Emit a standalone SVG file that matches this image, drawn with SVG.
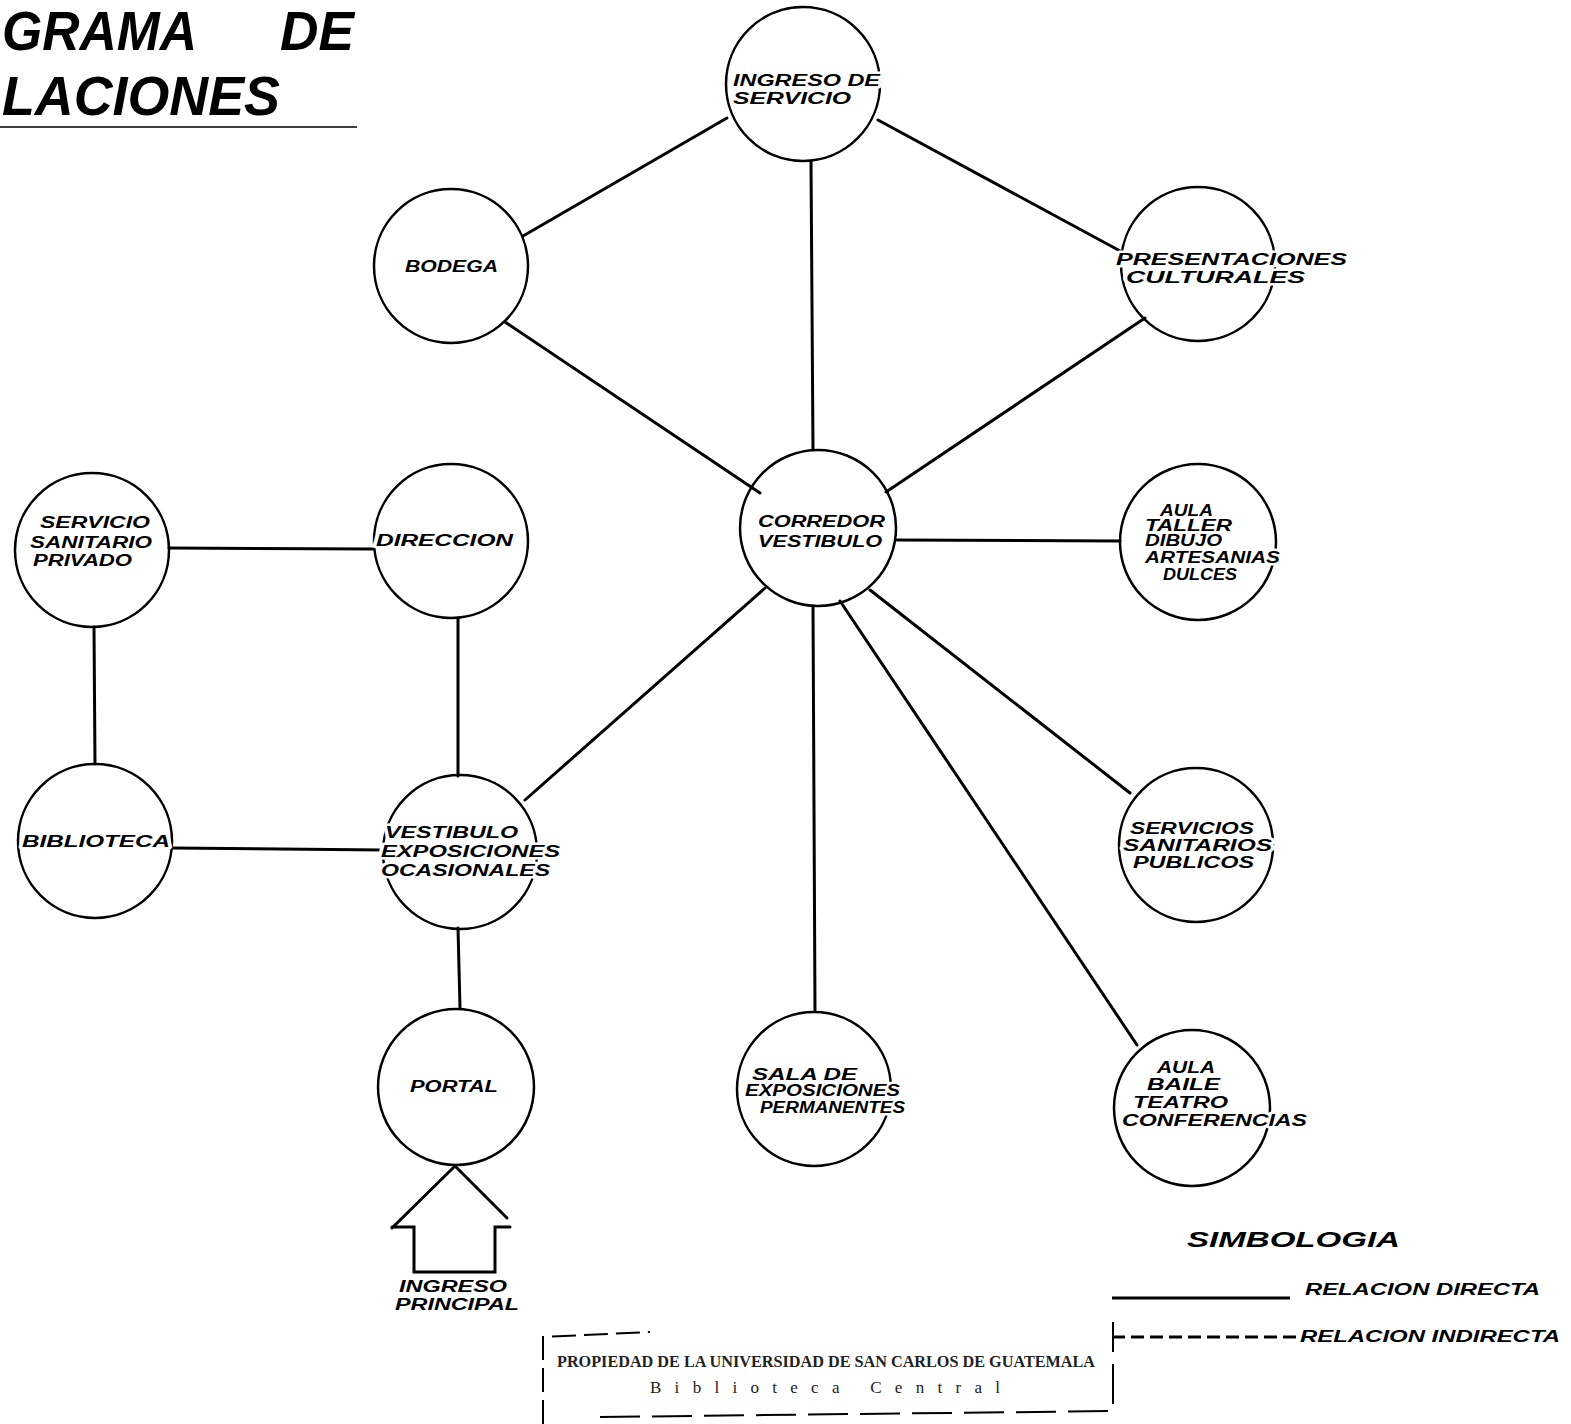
<svg xmlns="http://www.w3.org/2000/svg" width="1571" height="1424" viewBox="0 0 1571 1424">
<style>
.node{fill:none;stroke:#000;stroke-width:2.5}
.edge{stroke:#000;stroke-width:3;fill:none;stroke-linecap:round}
.lbl{font-family:"Liberation Sans",Arial,sans-serif;font-weight:bold;font-style:italic;font-size:16px;fill:#000;stroke:#fff;stroke-width:5;paint-order:stroke;stroke-linejoin:round}
.title{font-family:"Liberation Sans",Arial,sans-serif;font-weight:bold;font-style:italic;font-size:56px;fill:#000}
.stamp{font-family:"Liberation Serif","Times New Roman",serif;font-weight:bold;font-size:17px;fill:#222}
</style>
<rect width="1571" height="1424" fill="#fff"/>
<g id="title">
<text class="title" x="2" y="50" textLength="195" lengthAdjust="spacingAndGlyphs">GRAMA</text>
<text class="title" x="280" y="50" textLength="74" lengthAdjust="spacingAndGlyphs">DE</text>
<text class="title" x="2" y="115" textLength="278" lengthAdjust="spacingAndGlyphs">LACIONES</text>
<line x1="0" y1="127" x2="357" y2="127" stroke="#000" stroke-width="1.5"/>
</g>
<g id="connectors">
<line class="edge" x1="727" y1="118" x2="523" y2="236"/>
<line class="edge" x1="811" y1="162" x2="813" y2="450"/>
<line class="edge" x1="878" y1="120" x2="1122" y2="252"/>
<line class="edge" x1="505" y1="322" x2="760" y2="493"/>
<line class="edge" x1="1145" y1="318" x2="886" y2="492"/>
<line class="edge" x1="897" y1="540" x2="1120" y2="541"/>
<line class="edge" x1="765" y1="588" x2="525" y2="800"/>
<line class="edge" x1="813" y1="606" x2="815" y2="1010"/>
<line class="edge" x1="840" y1="601" x2="1137" y2="1045"/>
<line class="edge" x1="870" y1="590" x2="1130" y2="793"/>
<line class="edge" x1="169" y1="548" x2="374" y2="549"/>
<line class="edge" x1="94" y1="627" x2="95" y2="764"/>
<line class="edge" x1="458" y1="618" x2="458" y2="776"/>
<line class="edge" x1="172" y1="848" x2="383" y2="850"/>
<line class="edge" x1="458" y1="928" x2="460" y2="1008"/>
</g>
<g id="ingreso-principal">
<polyline class="edge" points="392,1228 455,1166 507,1218"/>
<polyline class="edge" points="392,1227 414,1227 414,1272 495,1272 495,1227 510,1227"/>
<text class="lbl" x="399" y="1292" textLength="108" lengthAdjust="spacingAndGlyphs">INGRESO</text>
<text class="lbl" x="395" y="1310" textLength="124" lengthAdjust="spacingAndGlyphs">PRINCIPAL</text>
</g>
<g id="n-ingreso-servicio">
<circle class="node" cx="803" cy="84" r="77"/>
<text class="lbl" x="733" y="86" textLength="147" lengthAdjust="spacingAndGlyphs">INGRESO DE</text>
<text class="lbl" x="733" y="104" textLength="118" lengthAdjust="spacingAndGlyphs">SERVICIO</text>
</g>
<g id="n-bodega">
<circle class="node" cx="451" cy="266" r="77"/>
<text class="lbl" x="405" y="272" textLength="93" lengthAdjust="spacingAndGlyphs">BODEGA</text>
</g>
<g id="n-presentaciones">
<circle class="node" cx="1198" cy="264" r="77"/>
<text class="lbl" x="1116" y="265" textLength="231" lengthAdjust="spacingAndGlyphs">PRESENTACIONES</text>
<text class="lbl" x="1126" y="283" textLength="179" lengthAdjust="spacingAndGlyphs">CULTURALES</text>
</g>
<g id="n-corredor">
<circle class="node" cx="818" cy="528" r="78"/>
<text class="lbl" x="758" y="527" textLength="127" lengthAdjust="spacingAndGlyphs">CORREDOR</text>
<text class="lbl" x="758" y="547" textLength="124" lengthAdjust="spacingAndGlyphs">VESTIBULO</text>
</g>
<g id="n-aula-taller">
<circle class="node" cx="1198" cy="542" r="78"/>
<text class="lbl" x="1160" y="516" textLength="53" lengthAdjust="spacingAndGlyphs">AULA</text>
<text class="lbl" x="1145" y="531" textLength="87" lengthAdjust="spacingAndGlyphs">TALLER</text>
<text class="lbl" x="1145" y="546" textLength="77" lengthAdjust="spacingAndGlyphs">DIBUJO</text>
<text class="lbl" x="1145" y="563" textLength="135" lengthAdjust="spacingAndGlyphs">ARTESANIAS</text>
<text class="lbl" x="1163" y="580" textLength="74" lengthAdjust="spacingAndGlyphs">DULCES</text>
</g>
<g id="n-servicio-privado">
<circle class="node" cx="92" cy="550" r="77"/>
<text class="lbl" x="40" y="528" textLength="110" lengthAdjust="spacingAndGlyphs">SERVICIO</text>
<text class="lbl" x="30" y="548" textLength="122" lengthAdjust="spacingAndGlyphs">SANITARIO</text>
<text class="lbl" x="33" y="566" textLength="99" lengthAdjust="spacingAndGlyphs">PRIVADO</text>
</g>
<g id="n-direccion">
<circle class="node" cx="451" cy="541" r="77"/>
<text class="lbl" x="376" y="546" textLength="137" lengthAdjust="spacingAndGlyphs">DIRECCION</text>
</g>
<g id="n-biblioteca">
<circle class="node" cx="95" cy="841" r="77"/>
<text class="lbl" x="22" y="847" textLength="148" lengthAdjust="spacingAndGlyphs">BIBLIOTECA</text>
</g>
<g id="n-vestibulo-exposiciones">
<circle class="node" cx="460" cy="852" r="77"/>
<text class="lbl" x="385" y="838" textLength="133" lengthAdjust="spacingAndGlyphs">VESTIBULO</text>
<text class="lbl" x="381" y="857" textLength="179" lengthAdjust="spacingAndGlyphs">EXPOSICIONES</text>
<text class="lbl" x="381" y="876" textLength="169" lengthAdjust="spacingAndGlyphs">OCASIONALES</text>
</g>
<g id="n-servicios-publicos">
<circle class="node" cx="1196" cy="845" r="77"/>
<text class="lbl" x="1130" y="834" textLength="124" lengthAdjust="spacingAndGlyphs">SERVICIOS</text>
<text class="lbl" x="1123" y="851" textLength="149" lengthAdjust="spacingAndGlyphs">SANITARIOS</text>
<text class="lbl" x="1133" y="868" textLength="121" lengthAdjust="spacingAndGlyphs">PUBLICOS</text>
</g>
<g id="n-portal">
<circle class="node" cx="456" cy="1087" r="78"/>
<text class="lbl" x="410" y="1092" textLength="88" lengthAdjust="spacingAndGlyphs">PORTAL</text>
</g>
<g id="n-sala-exposiciones">
<circle class="node" cx="814" cy="1089" r="77"/>
<text class="lbl" x="752" y="1080" textLength="105" lengthAdjust="spacingAndGlyphs">SALA DE</text>
<text class="lbl" x="745" y="1096" textLength="155" lengthAdjust="spacingAndGlyphs">EXPOSICIONES</text>
<text class="lbl" x="760" y="1113" textLength="145" lengthAdjust="spacingAndGlyphs">PERMANENTES</text>
</g>
<g id="n-aula-baile">
<circle class="node" cx="1192" cy="1108" r="78"/>
<text class="lbl" x="1157" y="1073" textLength="58" lengthAdjust="spacingAndGlyphs">AULA</text>
<text class="lbl" x="1147" y="1090" textLength="73" lengthAdjust="spacingAndGlyphs">BAILE</text>
<text class="lbl" x="1133" y="1108" textLength="95" lengthAdjust="spacingAndGlyphs">TEATRO</text>
<text class="lbl" x="1122" y="1126" textLength="185" lengthAdjust="spacingAndGlyphs">CONFERENCIAS</text>
</g>
<g id="legend">
<text class="lbl" style="font-size:22px" x="1187" y="1247" textLength="213" lengthAdjust="spacingAndGlyphs">SIMBOLOGIA</text>
<line x1="1112" y1="1298" x2="1290" y2="1298" stroke="#000" stroke-width="3"/>
<text class="lbl" x="1305" y="1295" textLength="235" lengthAdjust="spacingAndGlyphs">RELACION  DIRECTA</text>
<line x1="1112" y1="1337" x2="1296" y2="1337" stroke="#000" stroke-width="3" stroke-dasharray="13,6"/>
<text class="lbl" x="1300" y="1342" textLength="260" lengthAdjust="spacingAndGlyphs">RELACION  INDIRECTA</text>
</g>
<g id="stamp">
<polyline points="543,1424 543,1337 650,1332" fill="none" stroke="#000" stroke-width="2" stroke-dasharray="24,8"/>
<polyline points="600,1417 1113,1411 1113,1322" fill="none" stroke="#000" stroke-width="2" stroke-dasharray="40,12"/>
<text class="stamp" x="557" y="1367" textLength="538" lengthAdjust="spacingAndGlyphs">PROPIEDAD DE LA UNIVERSIDAD DE SAN CARLOS DE GUATEMALA</text>
<text class="stamp" style="font-weight:normal" x="650" y="1393" textLength="350" lengthAdjust="spacing">Biblioteca Central</text>
</g>
</svg>
